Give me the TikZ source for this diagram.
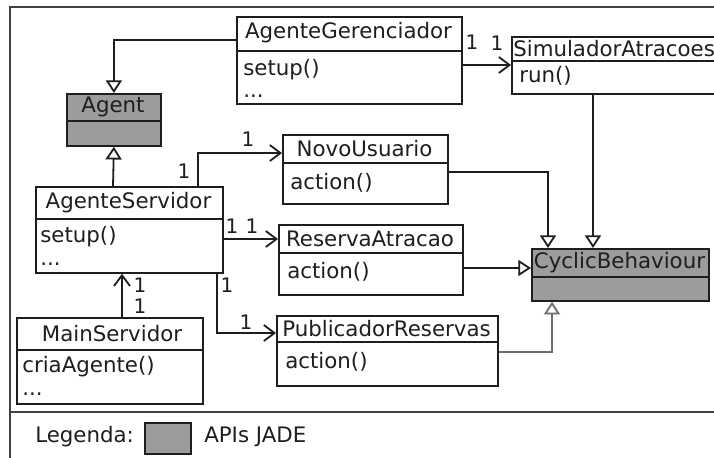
\documentclass[tikz,border=0pt]{standalone}
\usepackage{fontspec}
\setmainfont{DejaVu Sans}
\usetikzlibrary{arrows.meta,calc}
\definecolor{apigray}{RGB}{156,156,156}
\definecolor{ink}{RGB}{30,30,30}
\definecolor{linkgray}{RGB}{110,110,110}
\begin{document}
\begin{tikzpicture}[x=0.75pt,y=-0.75pt,
  every node/.style={text=ink,font=\fontsize{16}{19}\selectfont},
  cls/.style={draw=ink,line width=1.35pt,inner sep=0pt,anchor=north west,fill=white},
  edge/.style={draw=ink,line width=1.35pt},
  ttl/.style={inner sep=0pt,anchor=center},
  mth/.style={inner sep=0pt,anchor=west},
  mult/.style={inner sep=0pt,anchor=center,font=\fontsize{15}{18}\selectfont},
  assoc/.style={edge,-{Straight Barb[length=8pt,width=12pt,line width=1.35pt]}},
  inh/.style={edge,-{Triangle[open,length=9.5pt,width=12pt,fill=white,line width=1.35pt]}}]
\clip (0,0) rectangle (714,457);
\fill[white] (0,0) rectangle (714,457);
% frame
\draw[edge,draw=ink!85] (10,500) -- (10,7) -- (720,7);
\draw[edge,draw=ink!85] (10,412) -- (720,412);
% classes
\node[cls,minimum width=225*0.75pt,minimum height=87*0.75pt] (AG) at (236,16) {};
\draw[edge] ($(AG.north west)+(0,35)$) -- ($(AG.north east)+(0,35)$);
\node[ttl] (AGt) at ($(AG.north west)+(112.5,17)$) {AgenteGerenciador};
\node[mth] (AGm1) at ($(AG.north west)+(7,54)$) {setup()};
\node[mth] (AGm2) at ($(AG.north west)+(7,80)$) {...};

\node[cls,minimum width=215*0.75pt,minimum height=57*0.75pt] (SIM) at (511,36) {};
\draw[edge] ($(SIM.north west)+(0,25)$) -- ($(SIM.north east)+(0,25)$);
\node[mth] (SIMt) at ($(SIM.north west)+(2,13)$) {SimuladorAtracoes};
\node[mth] (SIMm1) at ($(SIM.north west)+(8,40)$) {run()};

\node[cls,fill=apigray,minimum width=94*0.75pt,minimum height=52*0.75pt] (Agent) at (66,93) {};
\draw[edge] ($(Agent.north west)+(0,28)$) -- ($(Agent.north east)+(0,28)$);
\node[ttl] (Agentt) at ($(Agent.north west)+(47,14)$) {Agent};

\node[cls,minimum width=187*0.75pt,minimum height=86*0.75pt] (AS) at (35,186) {};
\draw[edge] ($(AS.north west)+(0,33)$) -- ($(AS.north east)+(0,33)$);
\node[ttl] (ASt) at ($(AS.north west)+(93.5,17)$) {AgenteServidor};
\node[mth] (ASm1) at ($(AS.north west)+(5,51)$) {setup()};
\node[mth] (ASm2) at ($(AS.north west)+(5,78)$) {...};

\node[cls,minimum width=165*0.75pt,minimum height=69*0.75pt] (NU) at (282,134) {};
\draw[edge] ($(NU.north west)+(0,29)$) -- ($(NU.north east)+(0,29)$);
\node[ttl] (NUt) at ($(NU.north west)+(82.5,15)$) {NovoUsuario};
\node[mth] (NUm1) at ($(NU.north west)+(8,49)$) {action()};

\node[cls,minimum width=184*0.75pt,minimum height=70*0.75pt] (RA) at (278,224) {};
\draw[edge] ($(RA.north west)+(0,29)$) -- ($(RA.north east)+(0,29)$);
\node[ttl] (RAt) at ($(RA.north west)+(92,15)$) {ReservaAtracao};
\node[mth] (RAm1) at ($(RA.north west)+(9,48)$) {action()};

\node[cls,minimum width=221*0.75pt,minimum height=70*0.75pt] (PR) at (276,315) {};
\draw[edge] ($(PR.north west)+(0,27)$) -- ($(PR.north east)+(0,27)$);
\node[ttl] (PRt) at ($(PR.north west)+(110.5,14)$) {PublicadorReservas};
\node[mth] (PRm1) at ($(PR.north west)+(9,47)$) {action()};

\node[cls,fill=apigray,minimum width=177*0.75pt,minimum height=52*0.75pt] (CB) at (531,248) {};
\draw[edge] ($(CB.north west)+(0,29)$) -- ($(CB.north east)+(0,29)$);
\node[ttl] (CBt) at ($(CB.north west)+(88.5,15)$) {CyclicBehaviour};

\node[cls,minimum width=186*0.75pt,minimum height=86*0.75pt] (MS) at (16,317) {};
\draw[edge] ($(MS.north west)+(0,33)$) -- ($(MS.north east)+(0,33)$);
\node[ttl] (MSt) at ($(MS.north west)+(96,17)$) {MainServidor};
\node[mth] (MSm1) at ($(MS.north west)+(6,50)$) {criaAgente()};
\node[mth] (MSm2) at ($(MS.north west)+(6,77)$) {...};

% connectors
\draw[inh] ($(AG.north west)+(0,24)$) -| (Agent.north);
\draw[inh] ($(AS.north west)+(78,0)$) -- (Agent.south);
\draw[assoc] ($(AG.north east)+(0,49)$) -- ($(SIM.north west)+(0,29)$);
\draw[assoc] ($(AS.north west)+(163,0)$) |- ($(NU.north west)+(0,19)$);
\draw[assoc] ($(AS.north east)+(0,53)$) -- ($(RA.north west)+(0,15)$);
\draw[assoc] ($(AS.south west)+(182,0)$) |- ($(PR.north west)+(0,18)$);
\draw[assoc] ($(MS.north west)+(106,0)$) -- ($(AS.south west)+(87,0)$);
\draw[inh] ($(NU.north east)+(0,38)$) -| ($(CB.north west)+(17,0)$);
\draw[inh] ($(SIM.south west)+(82,0)$) -- ($(CB.north west)+(62,0)$);
\draw[inh] ($(RA.north east)+(0,44)$) -- (CB.north west |- 0,268);
\draw[inh,draw=linkgray] ($(PR.north east)+(0,37)$) -| ($(CB.south west)+(21,0)$);

% multiplicities
\node[mult] (m1) at (472,42) {1};
\node[mult] (m2) at (497,43) {1};
\node[mult] (m3) at (184,171) {1};
\node[mult] (m4) at (248,139) {1};
\node[mult] (m5) at (232,226) {1};
\node[mult] (m6) at (252,226) {1};
\node[mult] (m7) at (227,285) {1};
\node[mult] (m8) at (246,322) {1};
\node[mult] (m9) at (140,285) {1};
\node[mult] (m10) at (140,306) {1};

% legend
\node[mth] (leg) at (35,437) {Legenda:};
\node[cls,fill=apigray,minimum width=46*0.75pt,minimum height=31*0.75pt] (legbox) at (144,422) {};
\node[mth] (legtxt) at (204,437) {APIs JADE};
\end{tikzpicture}
\end{document}
